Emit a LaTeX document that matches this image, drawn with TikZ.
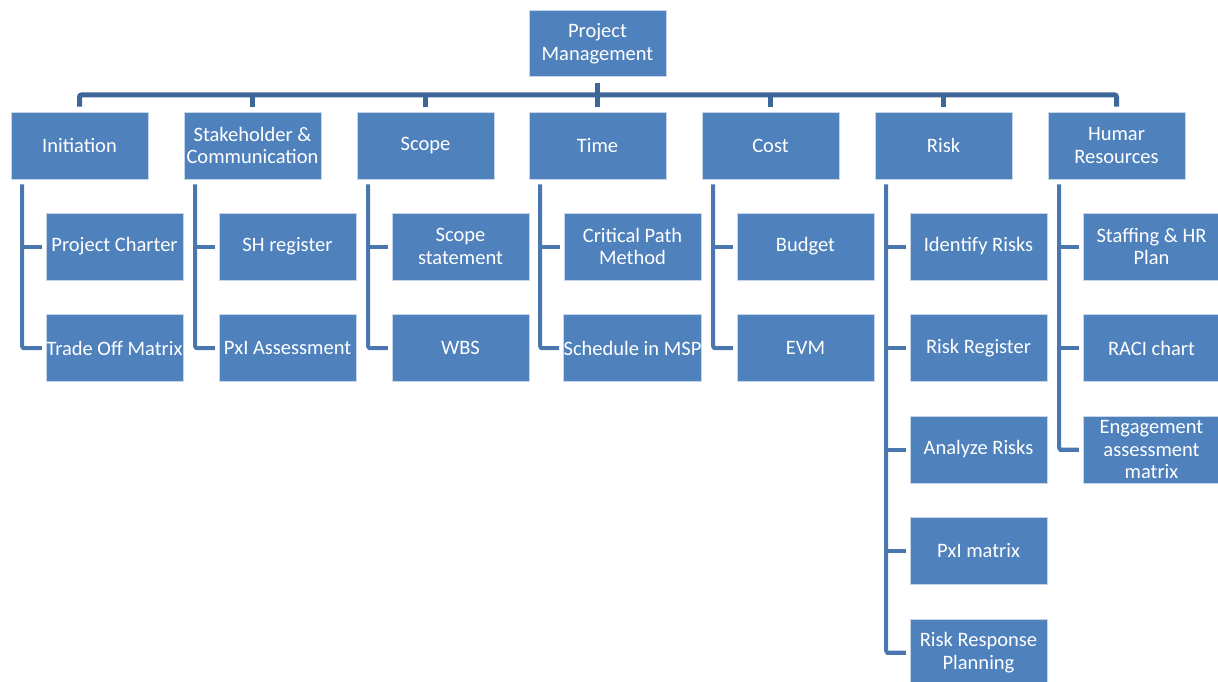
\documentclass[tikz,border=0pt]{standalone}
\usepackage{fontspec}
\setmainfont{Carlito}
\definecolor{boxfill}{HTML}{4F81BD}
\definecolor{boxline}{HTML}{C6D5EA}
\definecolor{busline}{HTML}{3F6698}
\definecolor{connline}{HTML}{4A77B0}
\begin{document}
\begin{tikzpicture}[x=1pt,y=-1pt,
  box/.style={draw=boxline, line width=0.8pt, fill=boxfill, text=white,
    minimum width=137pt, minimum height=67pt, inner sep=0pt, align=center,
    font=\fontsize{20.5}{22.5}\selectfont},
  bus/.style={draw=busline, line width=5pt, rounded corners=2pt},
  conn/.style={draw=connline, line width=4pt, rounded corners=2pt}]
\useasboundingbox (0,0) rectangle (1218,682);
\clip (0,0) rectangle (1218,682);
\coordinate (busy) at (0,95);
% top
\node[box, minimum height=66pt] (pm) at (597.5,43.5) {Project\\Management};
% level 2
\node[box] (init) at (79.5,145.5) {Initiation};
\node[box] (stake) at (252.5,145.5) {Stakeholder \&\\Communication};
\node[box] (scope) at (425.5,145.5) {Scope};
\node[box] (time) at (597.5,145.5) {Time};
\node[box] (cost) at (770.5,145.5) {Cost};
\node[box] (risk) at (943.5,145.5) {Risk};
\node[box] (hr) at (1116.5,145.5) {Humar\\Resources};
% children
\node[box] (init1) at (114.5,246.5) {Project Charter};
\node[box] (init2) at (114.5,348) {Trade Off Matrix};
\node[box] (stake1) at (287.5,246.5) {SH register};
\node[box] (stake2) at (287.5,348) {PxI Assessment};
\node[box] (scope1) at (460.5,246.5) {Scope\\statement};
\node[box] (scope2) at (460.5,348) {WBS};
\node[box] (time1) at (632.5,246.5) {Critical Path\\Method};
\node[box] (time2) at (632.5,348) {Schedule in MSP};
\node[box] (cost1) at (805.5,246.5) {Budget};
\node[box] (cost2) at (805.5,348) {EVM};
\node[box] (risk1) at (978.5,246.5) {Identify Risks};
\node[box] (risk2) at (978.5,348) {Risk Register};
\node[box] (risk3) at (978.5,449.5) {Analyze Risks};
\node[box] (risk4) at (978.5,551) {PxI matrix};
\node[box] (risk5) at (978.5,652.5) {Risk Response\\Planning};
\node[box] (hr1) at (1151.5,246.5) {Staffing \& HR\\Plan};
\node[box] (hr2) at (1151.5,348) {RACI chart};
\node[box] (hr3) at (1151.5,449.5) {Engagement\\assessment\\matrix};
% bus
\draw[bus] ([yshift=5pt]init.north) -- (init.north |- busy) -- (hr.north |- busy) -- ([yshift=5pt]hr.north);
\draw[bus] ([yshift=-6pt]pm.south) -- ([yshift=5pt]time.north);
\foreach \p in {stake,scope,cost,risk}
  \draw[bus] (\p.north |- busy) -- ([yshift=5pt]\p.north);
% child connectors
\foreach \p/\n in {init/2,stake/2,scope/2,time/2,cost/2,risk/5,hr/3}{
  \coordinate (\p v) at ([xshift=11.5pt]\p.south west);
  \draw[conn] ([yshift=-5pt]\p v) |- ([xshift=-4pt]\p\n.west);
  \foreach \k in {1,...,\n}
    \draw[conn] (\p v |- \p\k.west) -- ([xshift=-4pt]\p\k.west);
}
\end{tikzpicture}
\end{document}
